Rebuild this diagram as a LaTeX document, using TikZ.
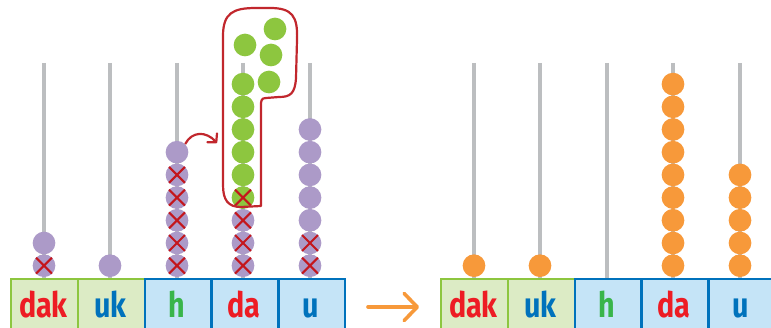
\documentclass[tikz,border=0pt]{standalone}
\usepackage{fontspec}
\setmainfont{Fira Sans}
\newfontfamily\labfont[FakeStretch=0.82]{Fira Sans}
\usetikzlibrary{arrows.meta}
\definecolor{rodgray}{HTML}{BCBEC0}
\definecolor{beadpurple}{HTML}{AC9AC8}
\definecolor{beadgreen}{HTML}{8DC63F}
\definecolor{beadorange}{HTML}{F7993A}
\definecolor{xred}{HTML}{C4161C}
\definecolor{outlinered}{HTML}{C1272D}
\definecolor{boxgreenfill}{HTML}{DCEBC5}
\definecolor{boxgreenline}{HTML}{8DC63F}
\definecolor{boxbluefill}{HTML}{C5E4F7}
\definecolor{boxblueline}{HTML}{0072BC}
\definecolor{txtred}{HTML}{ED1C24}
\definecolor{txtblue}{HTML}{0072BC}
\definecolor{txtgreen}{HTML}{39B54A}
\begin{document}
\begin{tikzpicture}[x=1pt,y=-1pt,
  rod/.style={draw=rodgray, line width=3.5pt},
  bead/.style={circle, inner sep=0pt, minimum size=22.7pt},
  pbead/.style={bead, fill=beadpurple},
  gbead/.style={bead, fill=beadgreen},
  obead/.style={bead, fill=beadorange},
  crossed/.style={path picture={
      \draw[xred, line width=2.1pt]
        ([shift={(-8.5pt,-8.5pt)}]path picture bounding box.center) -- ([shift={(8.5pt,8.5pt)}]path picture bounding box.center)
        ([shift={(-8.5pt,8.5pt)}]path picture bounding box.center) -- ([shift={(8.5pt,-8.5pt)}]path picture bounding box.center);}},
  gbox/.style={draw=boxgreenline, fill=boxgreenfill, line width=2.4pt, minimum width=66.8pt, minimum height=56pt, inner sep=0pt, anchor=north west},
  bbox/.style={draw=boxblueline, fill=boxbluefill, line width=2.4pt, minimum width=66.8pt, minimum height=56pt, inner sep=0pt, anchor=north west},
  lab/.style={anchor=base, inner sep=0pt, font=\labfont\bfseries\fontsize{35}{35}\selectfont},
  outline/.style={draw=outlinered, line width=2.2pt, line join=round},
  redarrow/.style={draw=outlinered, line width=2.2pt, -{Straight Barb[length=6pt, width=13pt, round]}},
  orangearrow/.style={draw=beadorange, line width=3.6pt, line cap=round, -{Straight Barb[length=13pt, width=27pt, round]}}
]
\useasboundingbox (0,0) rectangle (771,328);
\clip (0,0) rectangle (771,328);

% ---------- rods ----------
\foreach \x/\n in {44/Ldak,110/Luk,177/Lh,243/Lda,310/Lu,474/Rdak,540/Ruk,607/Rh,673/Rda,740/Ru}{
  \coordinate (\n-top) at (\x,63);
  \coordinate (\n-bot) at (\x,278);
  \draw[rod] (\n-top) -- (\n-bot);
}

% ---------- boxes, left ----------
\node[gbox] (Lbdak) at (10,278) {};
\node[gbox] (Lbuk) at (76.8,278) {};
\node[bbox] (Lbh) at (143.6,278) {};
\node[bbox] (Lbda) at (210.4,278) {};
\node[bbox] (Lbu) at (277.2,278) {};
% ---------- boxes, right ----------
\node[gbox] (Rbdak) at (440,278) {};
\node[gbox] (Rbuk) at (506.8,278) {};
\node[bbox] (Rbh) at (573.6,278) {};
\node[bbox] (Rbda) at (640.4,278) {};
\node[bbox] (Rbu) at (707.2,278) {};

% ---------- labels ----------
\node[lab, text=txtred]   (Ltdak) at (43.4,318) {dak};
\node[lab, text=txtblue]  (Ltuk)  at (110.2,318) {uk};
\node[lab, text=txtgreen] (Lth)   at (177,318) {h};
\node[lab, text=txtred]   (Ltda)  at (243.8,318) {da};
\node[lab, text=txtblue]  (Ltu)   at (310.6,318) {u};
\node[lab, text=txtred]   (Rtdak) at (473.4,318) {dak};
\node[lab, text=txtblue]  (Rtuk)  at (540.2,318) {uk};
\node[lab, text=txtgreen] (Rth)   at (607,318) {h};
\node[lab, text=txtred]   (Rtda)  at (673.8,318) {da};
\node[lab, text=txtblue]  (Rtu)   at (740.6,318) {u};

% ---------- left beads ----------
\def\yb#1{265.7-#1*22.7}
% dak
\node[pbead, crossed] (Ldak0) at (44,{\yb{0}}) {};
\node[pbead] (Ldak1) at (44,{\yb{1}}) {};
% uk
\node[pbead] (Luk0) at (110,{\yb{0}}) {};
% h
\foreach \k in {0,...,4}{\node[pbead, crossed] (Lh\k) at (177,{\yb{\k}}) {};}
\node[pbead] (Lh5) at (177,{\yb{5}}) {};
% da
\foreach \k in {0,...,2}{\node[pbead, crossed] (Lda\k) at (243,{\yb{\k}}) {};}
\node[gbead, crossed] (Lda3) at (243,{\yb{3}}) {};
\foreach \k in {4,...,8}{\node[gbead] (Lda\k) at (243,{\yb{\k}}) {};}
\node[gbead] (Lex1) at (245,45) {};
\node[gbead] (Lex2) at (275,29) {};
\node[gbead] (Lex3) at (271,55) {};
\node[gbead] (Lex4) at (269,82) {};
% u
\foreach \k in {0,1}{\node[pbead, crossed] (Lu\k) at (310,{\yb{\k}}) {};}
\foreach \k in {2,...,6}{\node[pbead] (Lu\k) at (310,{\yb{\k}}) {};}

% ---------- red outline around the ten ----------
\draw[outline] (223,185) -- (223,36)
  .. controls (223,13) and (233,8) .. (256,8) -- (270,8)
  .. controls (292,8) and (298,16) .. (297,40) -- (296,78)
  .. controls (295,94) and (290,97) .. (279,97) -- (266,98)
  .. controls (261,98) and (261,101) .. (261,106) -- (261,206) -- (241,207)
  .. controls (228,207) and (223,200) .. (223,185) -- cycle;

% ---------- red curved arrow ----------
\coordinate (redend) at (217,143);
\draw[redarrow] (Lh5.45) .. controls (192,131) and (206,131) .. (redend);

% ---------- right beads ----------
\node[obead] (Rdak0) at (474,{\yb{0}}) {};
\node[obead] (Ruk0) at (540,{\yb{0}}) {};
\foreach \k in {0,...,8}{\node[obead] (Rda\k) at (673,{\yb{\k}}) {};}
\foreach \k in {0,...,4}{\node[obead] (Ru\k) at (740,{\yb{\k}}) {};}

% ---------- orange arrow ----------
\coordinate (oastart) at (368,307);
\coordinate (oaend) at (419,307);
\draw[orangearrow] (oastart) -- (oaend);
\end{tikzpicture}
\end{document}
